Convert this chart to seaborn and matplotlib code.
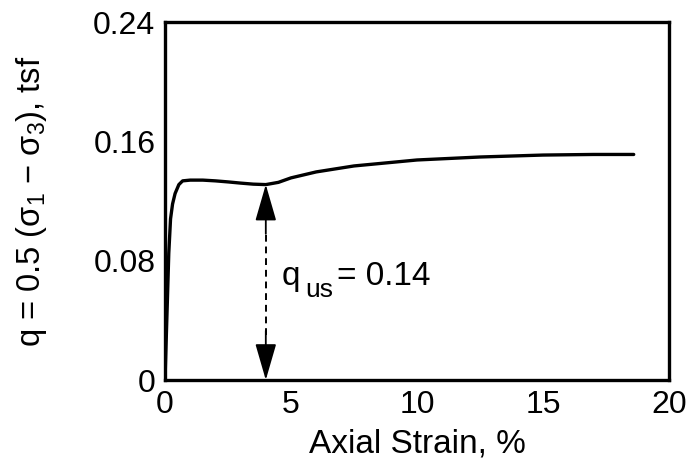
import matplotlib
matplotlib.use("Agg")
import matplotlib.pyplot as plt
import seaborn as sns
import pandas as pd

# Data
strain = [0.0, 0.08, 0.15, 0.22, 0.3, 0.4, 0.55, 0.7, 1.0, 1.5, 2.0, 2.5, 3.0, 3.5, 4.0, 4.5, 5.0, 6.0, 7.5, 10.0, 12.5, 15.0, 17.0, 18.6]
q = [0.0, 0.045, 0.085, 0.108, 0.118, 0.125, 0.131, 0.1335, 0.134, 0.134, 0.1335, 0.1328, 0.132, 0.1313, 0.131, 0.1325, 0.1355, 0.1395, 0.1435, 0.1475, 0.1495, 0.1508, 0.1512, 0.1512]
x_ticks = [0, 5, 10, 15, 20]
y_ticks = [0, 0.08, 0.16, 0.24]
y_tick_labels = ["0", "0.08", "0.16", "0.24"]
q_us_strain = 4.0
q_us = 0.131
q_us_label = "0.14"

sns.set_theme(style="white")
plt.rcParams["font.family"] = ["Liberation Sans", "DejaVu Sans"]
plt.rcParams["mathtext.fontset"] = "custom"
plt.rcParams["mathtext.rm"] = "Liberation Sans"
plt.rcParams["mathtext.it"] = "Liberation Sans"
plt.rcParams["mathtext.default"] = "regular"
plt.rcParams["text.color"] = "black"
plt.rcParams["axes.labelcolor"] = "black"

fig = plt.figure(figsize=(6.95, 4.73), dpi=100)
ax = fig.add_axes([165/695, 1-380/473, (669-165)/695, (380-22)/473])

df = pd.DataFrame({"strain": strain, "q": q})
sns.lineplot(data=df, x="strain", y="q", ax=ax, color="black", linewidth=2.4, sort=False)

ax.set_xlim(0, 20)
ax.set_ylim(0, 0.24)
ax.set_xticks(x_ticks)
ax.set_xticklabels([str(t) for t in x_ticks])
ax.set_yticks(y_ticks)
ax.set_yticklabels(y_tick_labels)
ax.tick_params(direction="in", length=11, width=1.8, labelsize=23, pad=7, colors="black")
for s in ax.spines.values():
    s.set_linewidth(2.4)
    s.set_color("black")

ax.set_xlabel("Axial Strain, %", fontsize=24, labelpad=6)
ax.set_ylabel("q = 0.5 (σ$_1$ − σ$_3$), tsf", fontsize=23.5, labelpad=32)

# dashed double arrow
ax.plot([q_us_strain, q_us_strain], [0.03, 0.10], ls=(0, (3.5, 2.5)), color="black", lw=1.4)
ax.annotate("", xy=(q_us_strain, q_us), xytext=(q_us_strain, 0.098),
            arrowprops=dict(arrowstyle="-|>,head_length=1.9,head_width=0.55", color="black", lw=1.3, shrinkA=0, shrinkB=0))
ax.annotate("", xy=(q_us_strain, 0.0), xytext=(q_us_strain, 0.033),
            arrowprops=dict(arrowstyle="-|>,head_length=1.9,head_width=0.55", color="black", lw=1.3, shrinkA=0, shrinkB=0))

# label q_us = 0.14
anchor = (4.64, 0.0637)
ax.annotate("q", xy=anchor, xytext=(0, 0), textcoords="offset pixels",
            fontsize=24, ha="left", va="baseline")
ax.annotate("us", xy=anchor, xytext=(23, -12), textcoords="offset pixels",
            fontsize=19, ha="left", va="baseline")
ax.annotate("= " + q_us_label, xy=anchor, xytext=(55, 0), textcoords="offset pixels",
            fontsize=24, ha="left", va="baseline")

fig.savefig("out.png", dpi=100)
